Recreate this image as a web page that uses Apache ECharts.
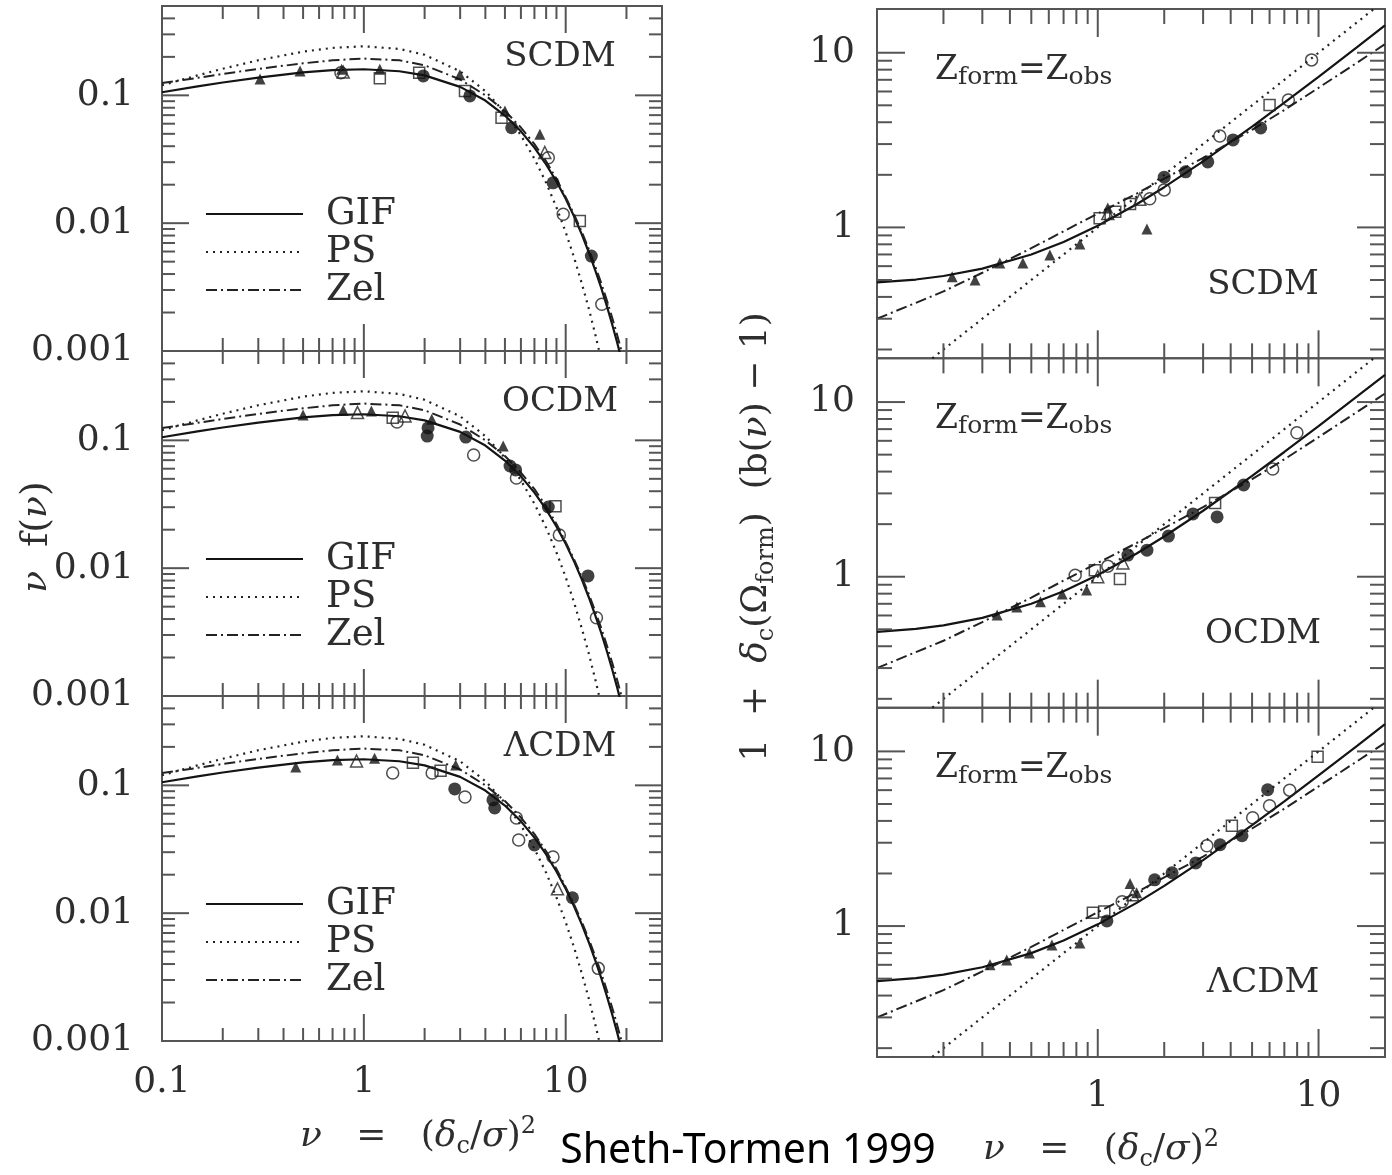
<!DOCTYPE html>
<html><head><meta charset="utf-8">
<script src="https://cdn.jsdelivr.net/npm/echarts@6/dist/echarts.min.js"></script>
<style>html,body{margin:0;padding:0;background:#fff}#c{width:1392px;height:1175px}</style>
</head><body><div id="c"></div><script>
// ---------- curves: nu f(nu) (left column) ----------
const nuMF  = [0.1,0.15,0.2,0.3,0.5,0.7,1,1.5,2,3,4,5,6,7,8,9,10,11,12,13,14,15,16,17,18,19,20,22];
const gifMF = [0.1058,0.1174,0.1260,0.1378,0.1514,0.1577,0.1600,0.1544,0.1432,0.1165,0.0910,0.0695,0.0523,0.0390,0.0288,0.0212,0.0155,0.0113,0.0082,0.00595,0.0043,0.00311,0.00224,0.00161,0.00116,0.00083,0.0006,0.0003];
const psMF  = [0.1200,0.1433,0.1614,0.1881,0.2197,0.2352,0.2420,0.2308,0.2076,0.1542,0.1080,0.0732,0.0487,0.0319,0.0207,0.0133,0.0085,0.0054,0.0034,0.00216,0.00136,0.00085,0.00054,0.00034,0.00021,0.00013,0.00008,0.00003];
const zelMF = [0.125,0.137,0.147,0.161,0.178,0.188,0.194,0.188,0.172,0.133,0.100,0.0755,0.056,0.0415,0.0305,0.0222,0.0160,0.0117,0.0086,0.0063,0.0046,0.0034,0.00248,0.00182,0.00133,0.00097,0.00071,0.00038];

// ---------- curves: 1 + delta_c (b-1) (right column) ----------
const nuB   = [0.1,0.15,0.2,0.3,0.5,0.7,1,1.5,2,3,5,7,10,15,20];
const gifB  = [0.484,0.503,0.527,0.581,0.700,0.826,1.023,1.358,1.699,2.387,3.779,5.178,7.284,10.80,14.33];
const zelB  = [0.30,0.37,0.43,0.55,0.76,0.95,1.20,1.56,1.90,2.50,3.62,4.70,6.30,8.80,11.2];
const nuPSB = [0.15,0.2,0.5,1,2,5,10,20];
const psB   = [0.15,0.2,0.5,1,2,5,10,20];

// ---------- simulation points, left column ----------
const scdmL_ftri = [[0.306,0.134],[0.483,0.155],[0.776,0.160],[1.20,0.160],[2.99,0.145],[5.0,0.0755],[7.45,0.0497]];
const scdmL_otri = [[0.79,0.152],[7.88,0.0357]];
const scdmL_osq  = [[1.20,0.136],[1.88,0.150],[3.17,0.108],[4.81,0.0668],[11.75,0.0104]];
const scdmL_fcir = [[1.97,0.142],[3.35,0.0989],[5.4,0.0558],[8.66,0.0207],[13.4,0.00553]];
const scdmL_ocir = [[0.77,0.150],[8.2,0.0325],[9.72,0.01175],[15.1,0.00232]];

const ocdmL_ftri = [[0.50,0.158],[0.79,0.172],[1.09,0.170],[2.17,0.146],[4.9,0.0904]];
const ocdmL_otri = [[0.93,0.165],[1.6,0.155]];
const ocdmL_osq  = [[1.39,0.150],[8.9,0.0305]];
const ocdmL_fcir = [[2.08,0.125],[2.06,0.108],[3.2,0.106],[5.3,0.063],[5.65,0.0587],[8.2,0.0301],[12.9,0.0087]];
const ocdmL_ocir = [[1.46,0.139],[3.5,0.0769],[5.7,0.0508],[9.3,0.0182],[14.2,0.0041]];

const lcdmL_ftri = [[0.46,0.139],[0.74,0.158],[1.13,0.163],[2.85,0.1445]];
const lcdmL_otri = [[0.92,0.155],[9.1,0.0155]];
const lcdmL_osq  = [[1.75,0.150],[2.4,0.130]];
const lcdmL_fcir = [[2.82,0.0938],[4.36,0.0769],[4.45,0.0666],[7.0,0.0342],[10.8,0.0132]];
const lcdmL_ocir = [[1.39,0.125],[2.18,0.125],[3.17,0.081],[5.7,0.0556],[5.85,0.0374],[8.65,0.0275],[14.5,0.0037]];

// ---------- simulation points, right column ----------
const scdmR_ftri = [[0.219,0.521],[0.278,0.50],[0.36,0.626],[0.458,0.626],[0.607,0.696],[0.83,0.804],[1.11,1.29],[1.67,0.98]];
const scdmR_otri = [[1.11,1.20],[1.55,1.45]];
const scdmR_osq  = [[1.02,1.13],[1.20,1.23],[1.40,1.36],[6.0,5.02]];
const scdmR_fcir = [[2.0,1.94],[2.5,2.08],[3.15,2.37],[4.1,3.17],[5.47,3.71]];
const scdmR_ocir = [[1.72,1.46],[2.0,1.64],[3.57,3.34],[7.3,5.37],[9.3,9.1]];

const ocdmR_ftri = [[0.35,0.604],[0.43,0.672],[0.55,0.718],[0.69,0.797],[0.89,0.84]];
const ocdmR_otri = [[1.0,1.0],[1.3,1.2]];
const ocdmR_osq  = [[0.97,1.09],[1.26,0.97],[3.4,2.64]];
const ocdmR_fcir = [[1.37,1.33],[1.67,1.42],[2.09,1.71],[2.7,2.29],[3.47,2.2],[4.58,3.35]];
const ocdmR_ocir = [[0.79,1.02],[1.11,1.15],[6.2,4.14],[7.98,6.67]];

const lcdmR_ftri = [[0.325,0.60],[0.387,0.64],[0.49,0.70],[0.62,0.78],[0.83,0.80],[1.4,1.75],[1.5,1.55]];
const lcdmR_otri = [[1.44,1.51]];
const lcdmR_osq  = [[0.95,1.19],[1.07,1.21],[4.05,3.75],[9.9,9.33]];
const lcdmR_fcir = [[1.1,1.07],[1.81,1.84],[2.17,2.02],[2.78,2.3],[3.58,2.92],[4.5,3.29],[5.88,6.03]];
const lcdmR_ocir = [[1.29,1.38],[3.12,2.88],[5.03,4.17],[6.0,4.89],[7.4,6.0]];

// ---------- ticks & labels ----------
const leftXMajor  = [0.1,1,10];
const leftXMinor  = [0.2,0.3,0.4,0.5,0.6,0.7,0.8,0.9,2,3,4,5,6,7,8,9,20];
const leftXLabelV = [0.1,1,10];
const leftXLabels = ['0.1','1','10'];
const leftYMajor  = [0.001,0.01,0.1];
const leftYMinor  = [0.002,0.003,0.004,0.005,0.006,0.007,0.008,0.009,0.02,0.03,0.04,0.05,0.06,0.07,0.08,0.09,0.2,0.3,0.4];
const leftYLabels = ['0.001','0.01','0.1'];
const rightXMajor = [0.1,1,10];
const rightXMinor = [0.2,0.3,0.4,0.5,0.6,0.7,0.8,0.9,2,3,4,5,6,7,8,9];
const rightXLabelV = [1,10];
const rightXLabels = ['1','10'];
const rightYMajor = [1,10];
const rightYMinor = [0.2,0.3,0.4,0.5,0.6,0.7,0.8,0.9,2,3,4,5,6,7,8,9];
const rightYLabels = ['1','10'];
const models = ['SCDM','OCDM','ΛCDM'];

// ---------- build ----------
const F = 'DejaVu Serif', TXT = '#2e2e2e', LINE = '#141414', AX = '#555';
const zip = (a,b) => a.map((v,i)=>[v,b[i]]);
function fmt(vals, labs){
  return function(v){
    for (let i=0;i<vals.length;i++){ if (Math.abs(Math.log10(v)-Math.log10(vals[i]))<1e-6) return labs[i]; }
    return '';
  };
}
const grids=[], xAxes=[], yAxes=[], series=[];
function tickSeries(gi, xMaj, xMin, yMaj, yMin, majLen, minLen, xRef, yRef){
  const data=[];
  xMaj.forEach(v=>data.push([v,yRef,0]));
  xMin.forEach(v=>data.push([v,yRef,1]));
  yMaj.forEach(v=>data.push([xRef,v,2]));
  yMin.forEach(v=>data.push([xRef,v,3]));
  return {type:'custom', xAxisIndex:gi, yAxisIndex:gi, data, silent:true, clip:false, z:6,
    renderItem(params, api){
      const cs = params.coordSys; const kind = api.value(2);
      const p = api.coord([api.value(0), api.value(1)]);
      const len = (kind===0||kind===2)?majLen:minLen;
      const st = {stroke:AX, lineWidth:2};
      if (kind<2){ const x=p[0]; return {type:'group', children:[
        {type:'line', shape:{x1:x,y1:cs.y+cs.height,x2:x,y2:cs.y+cs.height-len}, style:st},
        {type:'line', shape:{x1:x,y1:cs.y,x2:x,y2:cs.y+len}, style:st}]}; }
      const y=p[1]; return {type:'group', children:[
        {type:'line', shape:{x1:cs.x,y1:y,x2:cs.x+len,y2:y}, style:st},
        {type:'line', shape:{x1:cs.x+cs.width,y1:y,x2:cs.x+cs.width-len,y2:y}, style:st}]};
    }};
}
function points(gi, sets){
  const out=[];
  const st = {
    ftri:{symbol:'triangle', symbolSize:11, itemStyle:{color:'#111'}},
    otri:{symbol:'triangle', symbolSize:12, itemStyle:{color:'transparent', borderColor:'#222', borderWidth:1.5}},
    osq:{symbol:'rect', symbolSize:11, itemStyle:{color:'transparent', borderColor:'#222', borderWidth:1.5}},
    fcir:{symbol:'circle', symbolSize:13, itemStyle:{color:'#111'}},
    ocir:{symbol:'circle', symbolSize:12, itemStyle:{color:'transparent', borderColor:'#222', borderWidth:1.5}}
  };
  Object.keys(sets).forEach(k=>{
    out.push(Object.assign({type:'scatter', name:'pts_'+k, xAxisIndex:gi, yAxisIndex:gi, data:sets[k], z:4, silent:true}, st[k]));
  });
  return out;
}
function curves(gi, gifData, psData, zelData){
  const noSym = {color:'transparent', borderWidth:0, opacity:0};
  return [
    {type:'line', name:'GIF', xAxisIndex:gi, yAxisIndex:gi, data:gifData, symbol:'none', showSymbol:false, clip:true, z:3, silent:true,
      itemStyle:noSym, lineStyle:{color:LINE, width:2.2, type:'solid'}},
    {type:'line', name:'PS', xAxisIndex:gi, yAxisIndex:gi, data:psData, symbol:'none', showSymbol:false, clip:true, z:3, silent:true,
      itemStyle:noSym, lineStyle:{color:'#222', width:2.2, type:[2,5]}},
    {type:'line', name:'Zel', xAxisIndex:gi, yAxisIndex:gi, data:zelData, symbol:'none', showSymbol:false, clip:true, z:3, silent:true,
      itemStyle:noSym, lineStyle:{color:'#222', width:2, type:[11,4,2,4]}}
  ];
}
const leftSets = [
  {ftri:scdmL_ftri, otri:scdmL_otri, osq:scdmL_osq, fcir:scdmL_fcir, ocir:scdmL_ocir},
  {ftri:ocdmL_ftri, otri:ocdmL_otri, osq:ocdmL_osq, fcir:ocdmL_fcir, ocir:ocdmL_ocir},
  {ftri:lcdmL_ftri, otri:lcdmL_otri, osq:lcdmL_osq, fcir:lcdmL_fcir, ocir:lcdmL_ocir}];
const rightSets = [
  {ftri:scdmR_ftri, otri:scdmR_otri, osq:scdmR_osq, fcir:scdmR_fcir, ocir:scdmR_ocir},
  {ftri:ocdmR_ftri, otri:ocdmR_otri, osq:ocdmR_osq, fcir:ocdmR_fcir, ocir:ocdmR_ocir},
  {ftri:lcdmR_ftri, otri:lcdmR_otri, osq:lcdmR_osq, fcir:lcdmR_fcir, ocir:lcdmR_ocir}];

const labelStyle = {fontFamily:F, fontSize:36, color:TXT};
for (let i=0;i<3;i++){
  const gi = grids.length;
  grids.push({left:162, top:6+345*i, width:500, height:345, show:true, borderColor:AX, borderWidth:2, backgroundColor:'transparent'});
  xAxes.push({type:'log', logBase:10, gridIndex:gi, min:0.1, max:30, axisLine:{show:false}, axisTick:{show:false}, splitLine:{show:false},
    axisLabel:Object.assign({show:i===2, margin:24, formatter:fmt(leftXLabelV,leftXLabels)}, labelStyle)});
  yAxes.push({type:'log', logBase:10, gridIndex:gi, min:0.001, max:0.5, axisLine:{show:false}, axisTick:{show:false}, splitLine:{show:false},
    axisLabel:Object.assign({margin:28, formatter:fmt(leftYMajor,leftYLabels)}, labelStyle)});
  series.push(...curves(gi, zip(nuMF,gifMF), zip(nuMF,psMF), zip(nuMF,zelMF)));
  series.push(...points(gi, leftSets[i]));
  series.push(tickSeries(gi, leftXMajor, leftXMinor, leftYMajor, leftYMinor, 27, 13, 1, 0.01));
}
for (let i=0;i<3;i++){
  const gi = grids.length;
  grids.push({left:877, top:9+349.33*i, width:508, height:349.33, show:true, borderColor:AX, borderWidth:2, backgroundColor:'transparent'});
  xAxes.push({type:'log', logBase:10, gridIndex:gi, min:0.1, max:20, axisLine:{show:false}, axisTick:{show:false}, splitLine:{show:false},
    axisLabel:Object.assign({show:i===2, margin:22, formatter:fmt(rightXLabelV,rightXLabels)}, labelStyle)});
  yAxes.push({type:'log', logBase:10, gridIndex:gi, min:0.178, max:17.8, axisLine:{show:false}, axisTick:{show:false}, splitLine:{show:false},
    axisLabel:Object.assign({margin:22, formatter:fmt(rightYMajor,rightYLabels)}, labelStyle)});
  series.push(...curves(gi, zip(nuB,gifB), zip(nuPSB,psB), zip(nuB,zelB)));
  series.push(...points(gi, rightSets[i]));
  series.push(tickSeries(gi, rightXMajor, rightXMinor, rightYMajor, rightYMinor, 28, 15, 1, 1));
}

const legends = [0,1,2].map(i=>({
  left:205, top:195+345*i, orient:'vertical', itemGap:0, itemWidth:97, itemHeight:14, padding:0,
  selectedMode:false, data:['GIF','PS','Zel'],
  itemStyle:{color:'transparent', borderWidth:0, opacity:0},
  textStyle:{fontFamily:F, fontSize:37, color:TXT, lineHeight:38, padding:[0,0,0,18]}
}));

const graphics = [];
function addText(x,y,text,size,opts){
  graphics.push(Object.assign({type:'text', x, y, silent:true, style:Object.assign({text, fontFamily:F, fontSize:size, fill:TXT, align:'center', verticalAlign:'middle'}, (opts&&opts.style)||{})}, (opts&&opts.el)||{}));
}
for (let i=0;i<3;i++){
  addText(560, 57+345*i, models[i], 34);
  addText(1263, 285+349.33*i, models[i], 34);
  addText(935, 70+349.33*i, '{z|Z}{s|form}{z|=}{z|Z}{s|obs}', 32, {style:{align:'left', rich:{
    z:{fontFamily:F, fontSize:33, fill:TXT, lineHeight:40},
    s:{fontFamily:F, fontSize:25, fill:TXT, lineHeight:22, verticalAlign:'bottom'}}}});
}
const subRich = {s:{fontFamily:F, fontSize:24, fill:TXT, lineHeight:24, verticalAlign:'bottom'},
                 i:{fontFamily:F, fontSize:36, fill:TXT, lineHeight:44, fontStyle:'italic'},
                 p:{fontFamily:F, fontSize:24, fill:TXT, lineHeight:22, verticalAlign:'top'}};
addText(37, 537, '{i|ν}  f({i|ν})', 38, {el:{rotation:Math.PI/2}, style:{lineHeight:44, rich:subRich}});
addText(757, 537, '1  +  {i|δ}{s|c}(Ω{s|form})  (b({i|ν}) − 1)', 36, {el:{rotation:Math.PI/2}, style:{lineHeight:44, rich:subRich}});
addText(418, 1137, '{i|ν}   =   ({i|δ}{s|c}/{i|σ}){p|2}', 36, {style:{lineHeight:44, rich:subRich}});
addText(1101, 1150, '{i|ν}   =   ({i|δ}{s|c}/{i|σ}){p|2}', 36, {style:{lineHeight:44, rich:subRich}});
addText(748, 1151, 'Sheth-Tormen 1999', 41, {style:{fontFamily:'Noto Sans', fill:'#000'}});

const chart = echarts.init(document.getElementById('c'), null, {renderer:'canvas'});
chart.setOption({
  backgroundColor:'#fff', animation:false,
  grid:grids, xAxis:xAxes, yAxis:yAxes, series, legend:legends, graphic:graphics
});
</script></body></html>
